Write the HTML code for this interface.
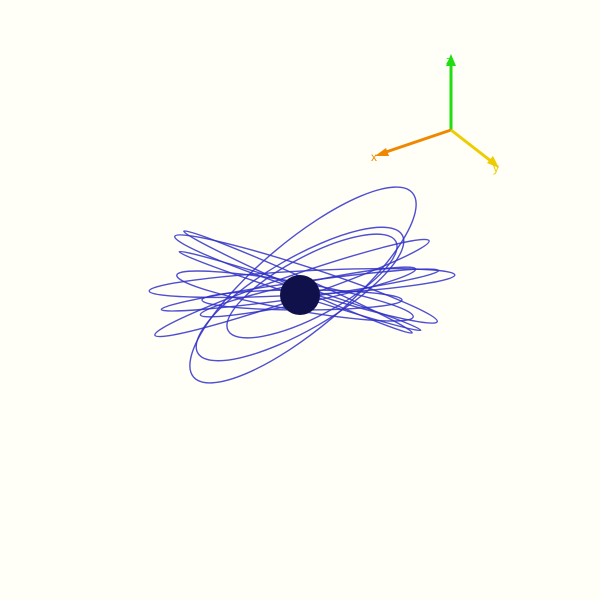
<!DOCTYPE html>
<html><head><meta charset="utf-8"><style>
html,body{margin:0;padding:0;background:#fffff8;}
svg{display:block;}
</style></head><body>
<svg id="chart" width="600" height="600" viewBox="0 0 600 600">
<rect width="600" height="600" fill="#fffff8"/>
<g id="orbits"></g>
<circle cx="300" cy="295" r="20" fill="#10104a"/>
<g>
<line x1="451" y1="130" x2="451" y2="58" stroke="#22dd11" stroke-width="3"/>
<polygon points="451,54 446,66 456,66" fill="#22dd11"/>
<text x="446" y="64" font-family="Liberation Sans, sans-serif" font-size="11" fill="#22dd11">z</text>
<line x1="451" y1="130" x2="380" y2="154" stroke="#ee8800" stroke-width="3"/>
<polygon points="375,156 386,148 389,156" fill="#ee8800"/>
<text x="371" y="161" font-family="Liberation Sans, sans-serif" font-size="12" fill="#ee8800">x</text>
<line x1="451" y1="130" x2="496" y2="165" stroke="#eecc00" stroke-width="3"/>
<polygon points="499,168 487,163 493,156" fill="#eecc00"/>
<text x="493" y="172" font-family="Liberation Sans, sans-serif" font-size="12" fill="#eecc00">y</text>
</g>
</svg>
<script>
const orbitCx = [303, 302, 306, 292, 300, 312, 300, 302, 300, 295, 308, 298];
const orbitCy = [285, 283, 279, 288, 294, 286, 291, 300, 290, 296, 292, 282];
const orbitRx = [143, 153, 138, 145, 118, 95, 127, 100, 140, 120, 110, 125];
const orbitRy = [44, 12, 12, 12, 36, 30, 5, 10, 8, 14, 10, 6];
const orbitAngle = [-40, -3, 18, -19, -30, -28, 18, 0, -8, 10, -12, 24];
const g = document.getElementById('orbits');
for (let i = 0; i < orbitCx.length; i++) {
  const e = document.createElementNS('http://www.w3.org/2000/svg', 'ellipse');
  e.setAttribute('cx', orbitCx[i]);
  e.setAttribute('cy', orbitCy[i]);
  e.setAttribute('rx', orbitRx[i]);
  e.setAttribute('ry', orbitRy[i]);
  e.setAttribute('transform', 'rotate(' + orbitAngle[i] + ' ' + orbitCx[i] + ' ' + orbitCy[i] + ')');
  e.setAttribute('fill', 'none');
  e.setAttribute('stroke', '#3030c8');
  e.setAttribute('stroke-width', '1.4');
  e.setAttribute('stroke-opacity', '0.85');
  
  
  g.appendChild(e);
}
</script>
</body></html>
